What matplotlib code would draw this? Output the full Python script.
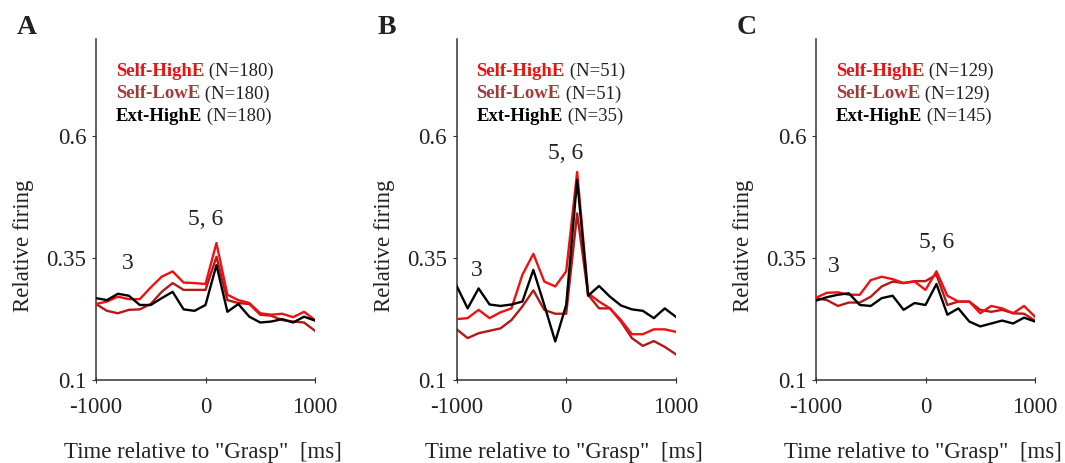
import numpy as np
import matplotlib
matplotlib.use('Agg')
import matplotlib.pyplot as plt

plt.rc('font', family='Liberation Serif')

time_ms = np.arange(-1000, 1001, 100)

# panel A
a_self_high = [0.256, 0.261, 0.271, 0.266, 0.266, 0.290, 0.312, 0.323, 0.300, 0.299, 0.297,
               0.381, 0.275, 0.264, 0.258, 0.237, 0.234, 0.236, 0.229, 0.240, 0.223]
a_self_low = [0.256, 0.242, 0.237, 0.244, 0.245, 0.256, 0.281, 0.299, 0.285, 0.285, 0.285,
              0.353, 0.264, 0.258, 0.256, 0.234, 0.232, 0.223, 0.220, 0.218, 0.201]
a_ext_high = [0.268, 0.264, 0.277, 0.273, 0.254, 0.254, 0.268, 0.281, 0.245, 0.242, 0.254,
              0.336, 0.240, 0.256, 0.230, 0.218, 0.220, 0.225, 0.218, 0.230, 0.222]

# panel B
b_self_high = [0.225, 0.227, 0.244, 0.227, 0.239, 0.247, 0.316, 0.359, 0.302, 0.292, 0.323,
               0.527, 0.278, 0.261, 0.247, 0.223, 0.194, 0.194, 0.204, 0.204, 0.199]
b_self_low = [0.204, 0.186, 0.196, 0.201, 0.206, 0.223, 0.251, 0.284, 0.244, 0.236, 0.236,
              0.442, 0.275, 0.247, 0.247, 0.220, 0.186, 0.170, 0.180, 0.168, 0.153]
b_ext_high = [0.293, 0.247, 0.288, 0.255, 0.252, 0.255, 0.261, 0.326, 0.254, 0.179, 0.254,
              0.511, 0.273, 0.293, 0.271, 0.253, 0.245, 0.242, 0.227, 0.247, 0.230]

# panel C
c_self_high = [0.269, 0.279, 0.280, 0.275, 0.275, 0.305, 0.312, 0.307, 0.299, 0.302, 0.285,
               0.323, 0.273, 0.261, 0.261, 0.237, 0.252, 0.247, 0.237, 0.252, 0.230]
c_self_low = [0.268, 0.264, 0.252, 0.259, 0.259, 0.271, 0.292, 0.302, 0.299, 0.303, 0.303,
              0.316, 0.254, 0.261, 0.261, 0.244, 0.240, 0.244, 0.237, 0.236, 0.222]
c_ext_high = [0.263, 0.270, 0.275, 0.278, 0.254, 0.252, 0.268, 0.273, 0.244, 0.258, 0.254,
              0.297, 0.234, 0.247, 0.220, 0.210, 0.216, 0.222, 0.216, 0.228, 0.220]

panel_letters = ["A", "B", "C"]
n_self_high = [180, 51, 129]
n_self_low = [180, 51, 129]
n_ext_high = [180, 35, 145]
# (x, y) of the "3" and "5, 6" epoch labels
label3_pos = [(-710, 0.340), (-817, 0.325), (-836, 0.333)]
label56_pos = [(0, 0.430), (-7, 0.564), (102, 0.382)]

series = [
    (a_self_high, a_self_low, a_ext_high),
    (b_self_high, b_self_low, b_ext_high),
    (c_self_high, c_self_low, c_ext_high),
]

RED = '#f01010'
DARKRED = '#b51818'
LOWE_TEXT = '#a23c3c'
INK = '#222222'

fig = plt.figure(figsize=(10.65, 4.63), dpi=100)
lefts = [96, 456.7, 816]
W, H = 1065.0, 463.0

for i in range(3):
    ax = fig.add_axes([lefts[i] / W, (H - 380) / H, 219 / W, 341 / H])
    sh, sl, eh = series[i]
    ax.plot(time_ms, sh, color=RED, lw=1.7, zorder=3)
    ax.plot(time_ms, sl, color=DARKRED, lw=1.7, zorder=2)
    ax.plot(time_ms, eh, color='black', lw=1.7, zorder=4)

    ax.set_xlim(-1000, 1000)
    ax.set_ylim(0.1, 0.8)
    ax.set_xticks([-1000, 0, 1000])
    ax.set_xticklabels(['-1000', '0', '1000'])
    ax.set_yticks([0.1, 0.35, 0.6])
    ax.set_yticklabels(['0.1', '0.35', '0.6'])
    for side in ['top', 'right']:
        ax.spines[side].set_visible(False)
    for side in ['left', 'bottom']:
        ax.spines[side].set_color('#333333')
        ax.spines[side].set_linewidth(1.1)
    ax.tick_params(axis='y', direction='out', length=3, labelsize=16.5,
                   colors='#333333', labelcolor=INK, pad=4)
    ax.tick_params(axis='x', direction='inout', length=5, labelsize=16.5,
                   colors='#333333', labelcolor=INK, pad=10)
    ax.set_ylabel('Relative firing', fontsize=16.5, color=INK)
    ax.yaxis.set_label_coords(-62 / 219, 0.393)
    ax.set_xlabel('Time relative to "Grasp"  [ms]', fontsize=16.5, color=INK)
    ax.xaxis.set_label_coords(0.49, -62 / 341)

    ax.text(*label3_pos[i], '3', fontsize=17, ha='center', va='center', color=INK)
    ax.text(*label56_pos[i], '5, 6', fontsize=17, ha='center', va='center', color=INK)

    # legend block
    rows = [('Self-HighE', RED, n_self_high[i]),
            ('Self-LowE', LOWE_TEXT, n_self_low[i]),
            ('Ext-HighE', 'black', n_ext_high[i])]
    for k, (name, col, n) in enumerate(rows):
        y = 0.905 - k * 0.066
        t = ax.text(0.09, y, name, transform=ax.transAxes, fontsize=13.5,
                    fontweight='bold', color=col, ha='left', va='center')
        ax.annotate(' (N=%d)' % n, xycoords=t, xy=(1, 0.5), fontsize=13.5,
                    color=INK, ha='left', va='center')

    fig.text((lefts[i] - 79) / W, 1 - 28 / H, panel_letters[i], fontsize=20,
             fontweight='bold', color=INK, ha='left', va='center')

fig.savefig('out.png', dpi=100)
